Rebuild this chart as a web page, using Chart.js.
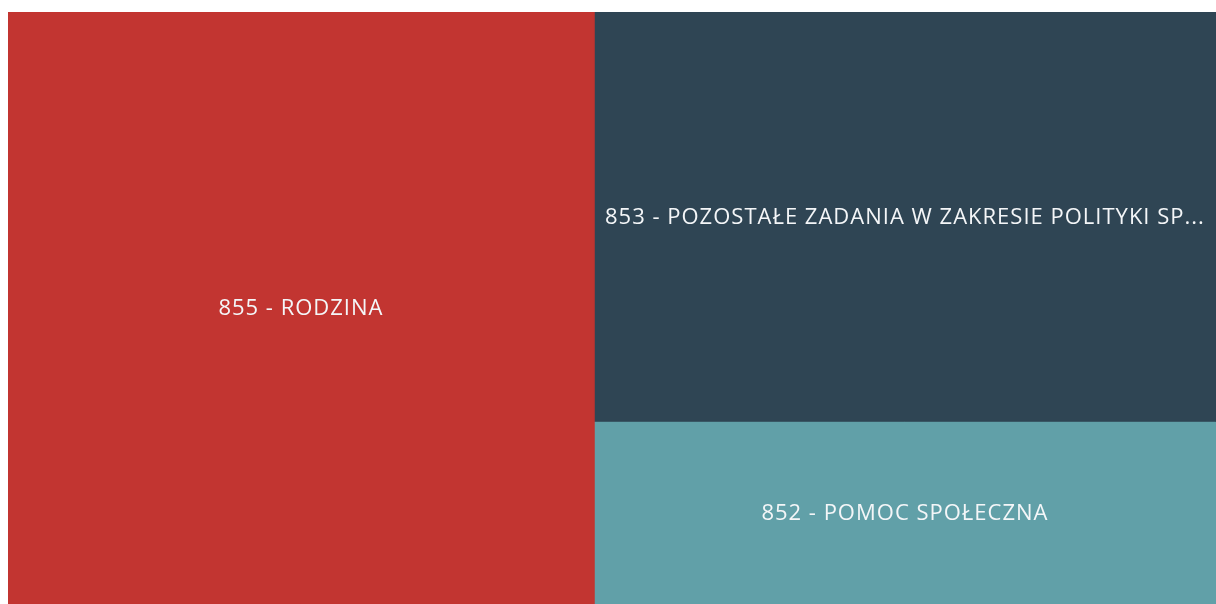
<!DOCTYPE html>
<html>
<head>
<meta charset="utf-8">
<script src="https://cdn.jsdelivr.net/npm/chart.js@4/dist/chart.umd.min.js"></script>
<style>
  html, body { margin: 0; padding: 0; background: #fff; }
  #wrap { width: 1216px; height: 604px; position: relative; }
</style>
</head>
<body>
<div id="wrap"><canvas id="chart"></canvas></div>
<script>
// Dane
const categories = ["855 - RODZINA", "853 - POZOSTAŁE ZADANIA W ZAKRESIE POLITYKI SPOŁECZNEJ", "852 - POMOC SPOŁECZNA"];
const values = [485, 356, 159];
const colors = ["#c23531", "#2f4554", "#61a0a8"];

// Układ: pierwszy element jako kolumna, reszta ułożona pionowo obok
function layout(vals) {
    const total = vals.reduce((s, v) => s + v, 0);
    const rects = [];
    const w0 = vals[0] / total;
    rects.push({ x0: 0, x1: w0, y0: 0, y1: 1 });
    const rest = total - vals[0];
    let y = 0;
    for (let i = 1; i < vals.length; i++) {
        const h = vals[i] / rest;
        rects.push({ x0: w0, x1: 1, y0: y, y1: y + h });
        y += h;
    }
    return rects;
}

const rects = layout(values);

const datasets = rects.map((r, i) => ({
    label: categories[i],
    data: [
        { x: r.x0, y: r.y0 }, { x: r.x1, y: r.y0 },
        { x: r.x1, y: r.y1 }, { x: r.x0, y: r.y1 }, { x: r.x0, y: r.y0 }
    ],
    showLine: true,
    fill: "shape",
    backgroundColor: colors[i],
    borderColor: colors[i],
    borderWidth: 1,
    pointRadius: 0,
    tension: 0
}));

const labelsPlugin = {
    id: "treemapLabels",
    afterDatasetsDraw(chart) {
        const { ctx, scales } = chart;
        ctx.save();
        ctx.font = "22px 'Open Sans', sans-serif";
        ctx.letterSpacing = "1px";
        ctx.fillStyle = "#f4f6f8";
        ctx.textAlign = "center";
        ctx.textBaseline = "middle";
        rects.forEach((r, i) => {
            const x0 = scales.x.getPixelForValue(r.x0);
            const x1 = scales.x.getPixelForValue(r.x1);
            const y0 = scales.y.getPixelForValue(r.y0);
            const y1 = scales.y.getPixelForValue(r.y1);
            const maxW = Math.abs(x1 - x0) - 12;
            let text = categories[i];
            if (ctx.measureText(text).width > maxW) {
                while (text.length > 0 && ctx.measureText(text + "...").width > maxW) {
                    text = text.slice(0, -1);
                }
                text = text + "...";
            }
            ctx.fillText(text, (x0 + x1) / 2, (y0 + y1) / 2 + 1);
        });
        ctx.restore();
    }
};

new Chart(document.getElementById("chart"), {
    type: "scatter",
    data: { datasets },
    options: {
        responsive: true,
        maintainAspectRatio: false,
        animation: false,
        layout: { padding: { left: 8, top: 12, right: 0, bottom: 0 } },
        scales: {
            x: { type: "linear", min: 0, max: 1, display: false },
            y: { type: "linear", min: 0, max: 1, reverse: true, display: false }
        },
        plugins: {
            legend: { display: false },
            tooltip: { enabled: false }
        }
    },
    plugins: [labelsPlugin]
});
</script>
</body>
</html>
